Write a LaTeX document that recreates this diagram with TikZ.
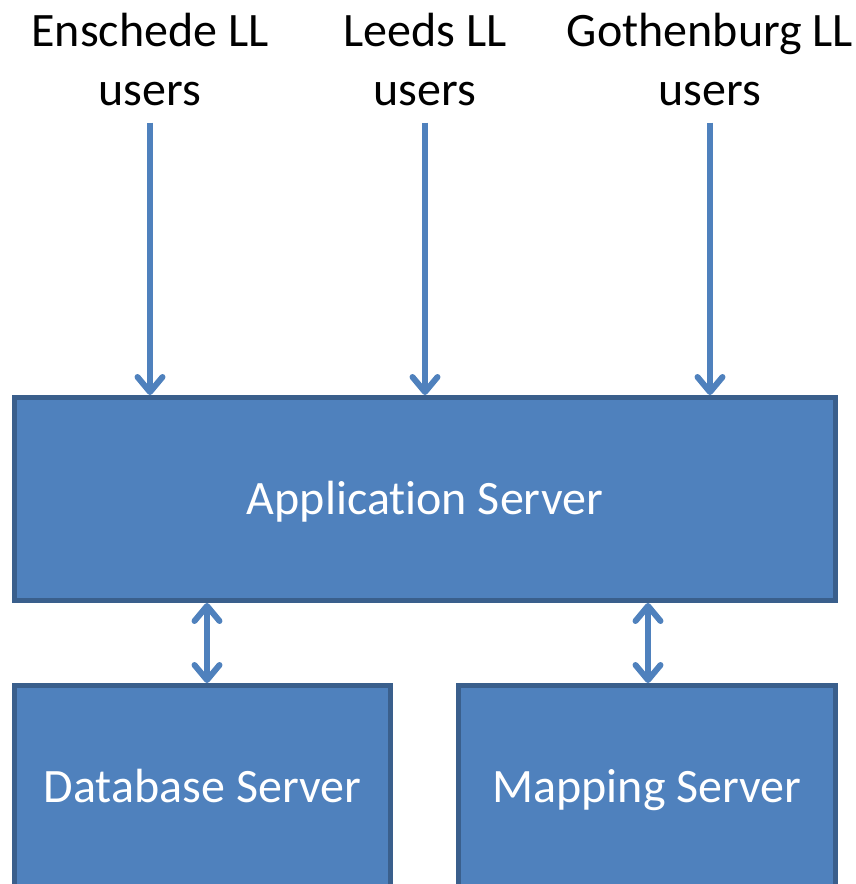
\documentclass[tikz,border=0pt]{standalone}
\usepackage{fontspec}
\setmainfont{Carlito}[Ligatures=NoCommon]
\usetikzlibrary{arrows.meta}
\definecolor{serverfill}{HTML}{4F81BD}
\definecolor{serverline}{HTML}{3A5F8C}
\tikzset{
	server/.style={draw=serverline, fill=serverfill, line width=5pt, text=white,
			text height=31pt, text depth=0pt, font=\fontsize{48}{59}\selectfont},
	users/.style={align=center, inner sep=0pt, font=\fontsize{48}{59}\selectfont},
	flow/.style={serverfill, line width=6pt, -{Straight Barb[round, length=15pt, width=25pt]}},
	link/.style={serverfill, line width=6pt, {Straight Barb[round, length=15pt, width=25pt]}-{Straight Barb[round, length=15pt, width=25pt]}}
}

\begin{document}
\begin{tikzpicture}[x=1pt, y=-1pt]
	\useasboundingbox (0,0) rectangle (856,884);
	\clip (0,0) rectangle (856,884);

	% The servers
	\node[server, minimum width=821pt, minimum height=203pt] (app) at (425,499) {Application Server};
	\node[server, minimum width=376pt, minimum height=203pt] (db) at (202.5,787) {Database Server};
	\node[server, minimum width=377pt, minimum height=203pt] (map) at (647,787) {Mapping Server};

	% The user groups
	\node[users] (ens) at (150,60) {Enschede LL\\users};
	\node[users] (lee) at (425,60) {Leeds LL\\users};
	\node[users] (got) at (710,60) {Gothenburg LL\\users};

	% Requests into the application server
	\draw[flow] ([yshift=-16pt]ens.south) -- (ens.south |- app.north);
	\draw[flow] ([yshift=-16pt]lee.south) -- (lee.south |- app.north);
	\draw[flow] ([yshift=-16pt]got.south) -- (got.south |- app.north);

	% Links to the back end
	\draw[link] ([xshift=4.5pt]db.north) -- ([xshift=4.5pt]db.north |- app.south);
	\draw[link] ([xshift=1pt]map.north) -- ([xshift=1pt]map.north |- app.south);
\end{tikzpicture}
\end{document}
